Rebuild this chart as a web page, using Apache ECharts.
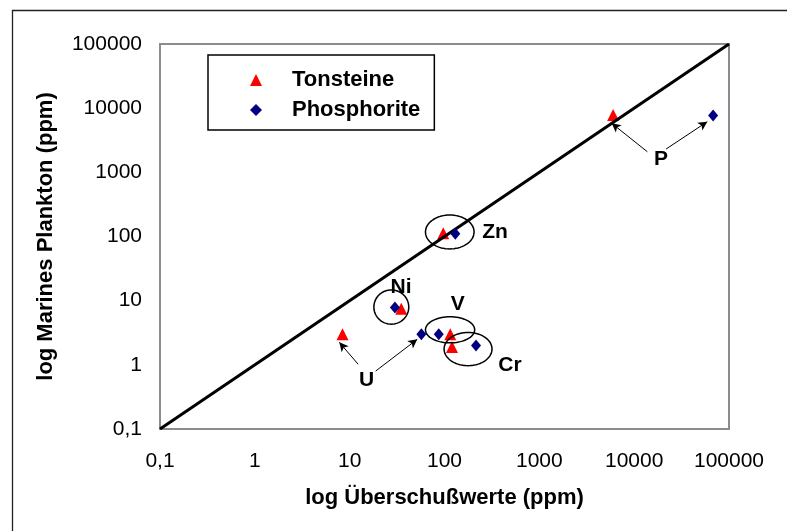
<!DOCTYPE html>
<html><head><meta charset="utf-8">
<script src="https://cdn.jsdelivr.net/npm/echarts@6/dist/echarts.min.js"></script>
<style>html,body{margin:0;padding:0;background:#fff}#c{width:787px;height:531px}</style>
</head><body><div id="c"></div>
<script>
// ---- data (ppm) ----
const elements = ['U', 'V', 'Cr', 'Ni', 'Zn', 'P'];
const tonsteineX = [8.4, 115, 120, 35, 97, 6000];
const tonsteineY = [3, 3, 1.9, 7.5, 112, 7800];
const phosphoriteX = [57, 87, 215, 30, 130, 68000];
const phosphoriteY = [3, 3, 2, 7.8, 110, 7700];
const xTickLabels = ['0,1', '1', '10', '100', '1000', '10000', '100000'];
const yTickLabels = ['0,1', '1', '10', '100', '1000', '10000', '100000'];
const refLineX = [0.1, 100000];
const refLineY = [0.1, 100000];
// circled groups (bounds in data units)
const groupNames = ['Zn', 'Ni', 'V', 'Cr'];
const groupXMin = [63, 18, 63, 99];
const groupXMax = [205, 42, 208, 317];
const groupYMin = [64, 4.3, 2.2, 0.97];
const groupYMax = [216, 14.7, 5.6, 3.2];
// annotation labels (data units)
const labelNames = ['Zn', 'Ni', 'V', 'Cr', 'U', 'P'];
const labelX = [341, 34.8, 138, 491, 15.1, 19200];
const labelY = [115, 16.1, 8.87, 0.97, 0.566, 1615];
// arrows (data units)
const arrowFromX = [12.3, 18.8, 13770, 21700];
const arrowFromY = [1.02, 0.80, 2094, 2307];
const arrowToX = [7.78, 51.6, 5800, 59000];
const arrowToY = [2.24, 2.50, 5810, 6150];

const FONT = '"Liberation Sans", Arial, sans-serif';
const zip = (a, b) => a.map((v, i) => [v, b[i]]);
const tickFmt = labels => v => labels[Math.round(Math.log10(v)) + 1] || '';

const chart = echarts.init(document.getElementById('c'), null, {renderer: 'canvas'});
chart.setOption({
  animation: false,
  backgroundColor: '#fff',
  textStyle: {fontFamily: FONT},
  graphic: [{
    type: 'rect', silent: true, z: -10,
    shape: {x: 12.5, y: 10.5, width: 900, height: 700},
    style: {fill: 'none', stroke: '#222', lineWidth: 1.3}
  }],
  grid: {left: 160, right: 58, top: 44, bottom: 102, show: true,
         borderColor: '#8c8c8c', borderWidth: 2, backgroundColor: '#fff'},
  legend: {
    data: ['Tonsteine', 'Phosphorite'],
    orient: 'vertical', left: 208, top: 55,
    padding: [14, 14, 9, 42], itemGap: 8,
    itemWidth: 12, itemHeight: 12, symbolKeepAspect: true,
    borderColor: '#000', borderWidth: 1.5, backgroundColor: '#fff',
    selectedMode: false,
    textStyle: {fontFamily: FONT, fontSize: 22, fontWeight: 'bold', color: '#000',
                padding: [0, 0, 0, 25]}
  },
  xAxis: {
    type: 'log', logBase: 10, min: 0.1, max: 100000,
    name: 'log Überschußwerte (ppm)', nameLocation: 'middle', nameGap: 58,
    nameTextStyle: {fontFamily: FONT, fontSize: 22, fontWeight: 'bold', color: '#000'},
    axisLine: {show: false}, axisTick: {show: false}, splitLine: {show: false},
    axisLabel: {formatter: tickFmt(xTickLabels), margin: 22, fontSize: 21, color: '#000', fontFamily: FONT}
  },
  yAxis: {
    type: 'log', logBase: 10, min: 0.1, max: 100000,
    name: 'log Marines Plankton (ppm)', nameLocation: 'middle', nameGap: 103,
    nameTextStyle: {fontFamily: FONT, fontSize: 22, fontWeight: 'bold', color: '#000'},
    axisLine: {show: false}, axisTick: {show: false}, splitLine: {show: false},
    axisLabel: {formatter: tickFmt(yTickLabels), margin: 18, fontSize: 21, color: '#000', fontFamily: FONT}
  },
  series: [
    {
      name: 'Tonsteine', type: 'scatter', symbol: 'triangle', symbolSize: 12,
      itemStyle: {color: '#ff0000', opacity: 1}, z: 3,
      data: zip(tonsteineX, tonsteineY)
    },
    {
      name: 'Linie', type: 'line', symbol: 'none', z: 4, silent: true,
      lineStyle: {color: '#000', width: 3},
      data: zip(refLineX, refLineY)
    },
    {
      name: 'Phosphorite', type: 'scatter', symbol: 'diamond', symbolSize: [10, 12],
      itemStyle: {color: '#000080', opacity: 1}, z: 5,
      data: zip(phosphoriteX, phosphoriteY)
    },
    {
      name: 'Gruppen', type: 'custom', silent: true, z: 6,
      encode: {x: [0, 1], y: [2, 3]},
      data: groupNames.map((n, i) => [groupXMin[i], groupXMax[i], groupYMin[i], groupYMax[i]]),
      renderItem: function (params, api) {
        const p0 = api.coord([api.value(0), api.value(2)]);
        const p1 = api.coord([api.value(1), api.value(3)]);
        const cx = (p0[0] + p1[0]) / 2, cy = (p0[1] + p1[1]) / 2;
        const rx = Math.abs(p1[0] - p0[0]) / 2, ry = Math.abs(p1[1] - p0[1]) / 2;
        const pts = [];
        for (let k = 0; k < 72; k++) {
          const t = k / 72 * Math.PI * 2;
          pts.push([cx + rx * Math.cos(t), cy + ry * Math.sin(t)]);
        }
        return {type: 'polygon', shape: {points: pts},
                style: {fill: 'none', stroke: '#000', lineWidth: 1.5}};
      }
    },
    {
      name: 'Beschriftung', type: 'scatter', symbolSize: 0, silent: true, z: 7,
      itemStyle: {opacity: 1},
      data: labelNames.map((n, i) => ({name: n, value: [labelX[i], labelY[i]]})),
      label: {show: true, position: 'inside', formatter: '{b}',
              fontFamily: FONT, fontSize: 21, fontWeight: 'bold', color: '#000'},
      markLine: {
        silent: true, symbol: ['none', 'arrow'], symbolSize: [7, 9],
        label: {show: false},
        lineStyle: {color: '#000', width: 1, type: 'solid', opacity: 1},
        data: arrowFromX.map((x, i) => [
          {coord: [x, arrowFromY[i]]},
          {coord: [arrowToX[i], arrowToY[i]]}
        ])
      }
    }
  ]
});
</script>
</body></html>
